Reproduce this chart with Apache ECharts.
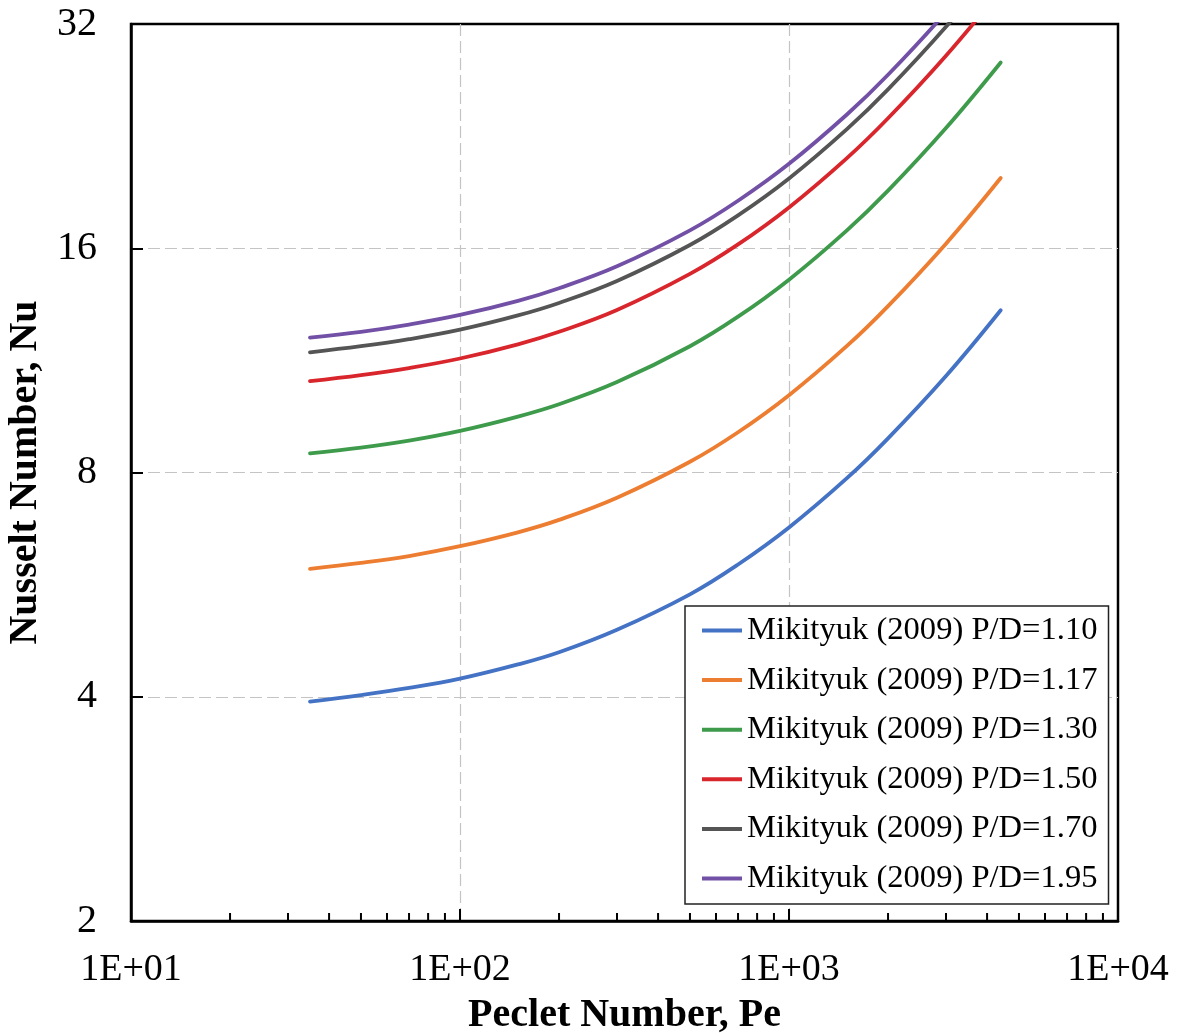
<!DOCTYPE html>
<html>
<head>
<meta charset="utf-8">
<script src="https://cdn.jsdelivr.net/npm/echarts@6/dist/echarts.min.js"></script>
<style>
  html, body { margin: 0; padding: 0; background: #fff; }
  #chart { width: 1184px; height: 1036px; }
</style>
</head>
<body>
<div id="chart"></div>
<script>
// Peclet numbers at which each curve is sampled
const peclet = [35, 50, 70, 100, 150, 200, 300, 500, 700, 1000, 1500, 2000, 3000, 4400];

// Nusselt number for each pitch-to-diameter ratio
const nuPD110 = [3.94, 4.02, 4.11, 4.23, 4.42, 4.59, 4.92, 5.49, 6.02, 6.75, 7.86, 8.89, 10.78, 13.21];
const nuPD117 = [5.94, 6.05, 6.18, 6.37, 6.65, 6.91, 7.40, 8.27, 9.06, 10.16, 11.83, 13.38, 16.23, 19.88];
const nuPD130 = [8.49, 8.64, 8.83, 9.10, 9.51, 9.88, 10.58, 11.82, 12.95, 14.52, 16.91, 19.12, 23.20, 28.41];
const nuPD150 = [10.61, 10.81, 11.05, 11.38, 11.89, 12.36, 13.22, 14.78, 16.19, 18.15, 21.14, 23.91, 29.01, 35.52];
const nuPD170 = [11.60, 11.82, 12.08, 12.44, 13.00, 13.51, 14.46, 16.16, 17.71, 19.85, 23.12, 26.14, 31.72, 38.85];
const nuPD195 = [12.14, 12.36, 12.64, 13.02, 13.60, 14.14, 15.13, 16.91, 18.53, 20.77, 24.19, 27.35, 33.19, 40.64];

const seriesNames = [
  'Mikityuk (2009) P/D=1.10',
  'Mikityuk (2009) P/D=1.17',
  'Mikityuk (2009) P/D=1.30',
  'Mikityuk (2009) P/D=1.50',
  'Mikityuk (2009) P/D=1.70',
  'Mikityuk (2009) P/D=1.95'
];
const seriesValues = [nuPD110, nuPD117, nuPD130, nuPD150, nuPD170, nuPD195];
const seriesColors = ['#4472C4', '#ED7D31', '#3E9B4C', '#D8262C', '#555555', '#7250A6'];

// Axis ticks
const xTickValues = [10, 100, 1000, 10000];
const xTickLabels = ['1E+01', '1E+02', '1E+03', '1E+04'];
const yTickValues = [2, 4, 8, 16, 32];
const xMinorTicks = [20, 30, 40, 50, 60, 70, 80, 90,
                     200, 300, 400, 500, 600, 700, 800, 900,
                     2000, 3000, 4000, 5000, 6000, 7000, 8000, 9000];

const serif = '"Liberation Serif", "Times New Roman", serif';

const chart = echarts.init(document.getElementById('chart'), null, { renderer: 'canvas' });

const lineSeries = seriesNames.map((name, i) => ({
  name: name,
  type: 'line',
  data: peclet.map((pe, k) => [pe, seriesValues[i][k]]),
  smooth: 0.4,
  showSymbol: false,
  symbol: 'none',
  clip: true,
  lineStyle: { color: seriesColors[i], width: 3.8, cap: 'round' },
  itemStyle: { color: seriesColors[i] },
  z: 3
}));

// Logarithmic minor ticks along the bottom axis, placed through the axis scale
const minorTickSeries = {
  type: 'custom',
  silent: true,
  clip: false,
  z: 6,
  data: xMinorTicks.map(v => [v, yTickValues[0]]),
  encode: { x: 0, y: 1 },
  renderItem: (params, api) => {
    const p = api.coord([api.value(0), api.value(1)]);
    return {
      type: 'line',
      shape: { x1: p[0], y1: p[1], x2: p[0], y2: p[1] - 8 },
      style: { stroke: '#000', lineWidth: 2 }
    };
  }
};

const gridLine = {
  show: true,
  showMinLine: false,
  showMaxLine: false,
  lineStyle: { color: '#c4c4c4', width: 1.2, type: [12, 5] }
};

const option = {
  backgroundColor: '#fff',
  animation: false,
  grid: {
    left: 131, top: 24, right: 66, bottom: 115,
    outerBoundsMode: 'none',
    containLabel: false,
    show: true, borderColor: '#000', borderWidth: 2.5, backgroundColor: 'transparent'
  },
  legend: {
    data: seriesNames,
    orient: 'vertical',
    left: 685,
    top: 606,
    padding: [8, 11, 9, 17],
    itemGap: 16.6,
    itemWidth: 40,
    itemHeight: 4,
    icon: 'rect',
    backgroundColor: '#fff',
    borderColor: '#222',
    borderWidth: 1.5,
    textStyle: { fontFamily: serif, fontSize: 32.6, color: '#000', lineHeight: 32 }
  },
  xAxis: {
    type: 'log',
    logBase: 10,
    min: xTickValues[0],
    max: xTickValues[xTickValues.length - 1],
    name: 'Peclet Number, Pe',
    nameLocation: 'middle',
    nameGap: 75,
    nameTextStyle: { fontFamily: serif, fontSize: 40, fontWeight: 'bold', color: '#000' },
    axisLine: { show: true, lineStyle: { color: '#000', width: 2.5 } },
    axisTick: { show: true, inside: true, length: 12, lineStyle: { color: '#000', width: 2 } },
    axisLabel: {
      fontFamily: serif, fontSize: 38, color: '#000', margin: 30,
      formatter: v => {
        const idx = xTickValues.findIndex(t => Math.abs(Math.log10(t) - Math.log10(v)) < 1e-6);
        return idx >= 0 ? xTickLabels[idx] : '';
      }
    },
    splitLine: gridLine
  },
  yAxis: {
    type: 'log',
    logBase: 2,
    min: yTickValues[0],
    max: yTickValues[yTickValues.length - 1],
    name: 'Nusselt Number, Nu',
    nameLocation: 'middle',
    nameGap: 78,
    nameTextStyle: { fontFamily: serif, fontSize: 40, fontWeight: 'bold', color: '#000' },
    axisLine: { show: true, lineStyle: { color: '#000', width: 2.5 } },
    axisTick: { show: true, inside: true, length: 12, lineStyle: { color: '#000', width: 2 } },
    axisLabel: {
      fontFamily: serif, fontSize: 40, color: '#000', margin: 34,
      formatter: v => String(Math.round(v))
    },
    splitLine: gridLine
  },
  series: lineSeries.concat([minorTickSeries])
};

chart.setOption(option);
</script>
</body>
</html>
